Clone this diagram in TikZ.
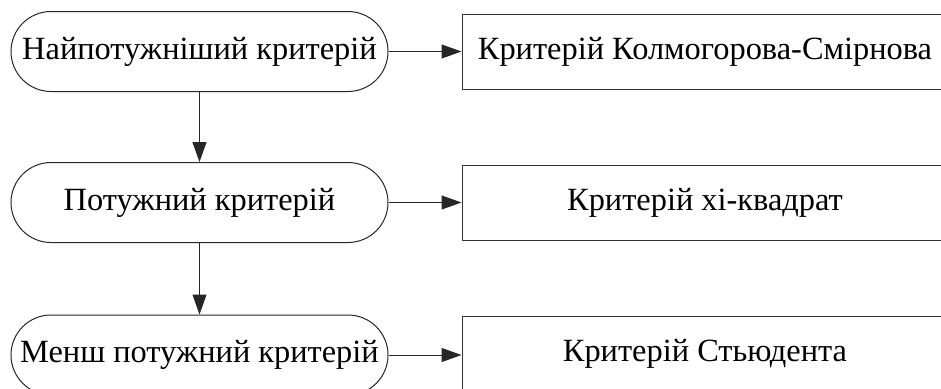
\documentclass[tikz,border=0pt]{standalone}
\usepackage{fontspec}
\setmainfont{Liberation Serif}
\usetikzlibrary{arrows.meta}
\begin{document}
\begin{tikzpicture}[x=1pt,y=-1pt,
  line width=1pt,
  txt/.style={font=\fontsize{32.4}{36}\selectfont, inner sep=0pt},
  roundbox/.style={txt, draw=black!85, rounded corners=40pt, minimum width=377pt, minimum height=80pt},
  sqbox/.style={txt, draw=black!80, minimum width=486pt, minimum height=75pt},
  arr/.style={draw=black!85, -{Triangle[length=20pt,width=14pt]}}
]
\useasboundingbox (0,0) rectangle (941,388);
\clip (0,0) rectangle (941,388);
\node[roundbox] (a1) at (199.5,51.5) {Найпотужніший критерій};
\node[roundbox] (a2) at (199.5,202.5) {Потужний критерій};
\node[roundbox] (a3) at (199.5,355) {Менш потужний критерій};
\node[sqbox] (b1) at (705,51.5) {Критерій Колмогорова-Смірнова};
\node[sqbox] (b2) at (705,202.5) {Критерій хі-квадрат};
\node[sqbox] (b3) at (705,353.5) {Критерій Стьюдента};
\draw[arr] (a1) -- (b1);
\draw[arr] (a2) -- (b2);
\draw[arr] (a3.east) -- (a3.east -| b3.west);
\draw[arr] (a1) -- (a2);
\draw[arr] (a2) -- (a3);
\end{tikzpicture}
\end{document}
